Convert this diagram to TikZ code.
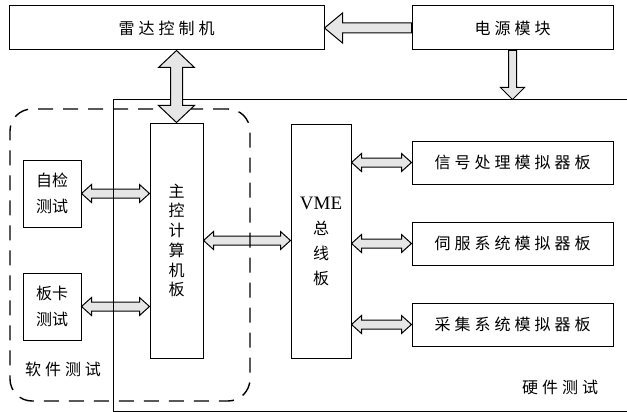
\documentclass[tikz,border=0pt]{standalone}
\usepackage{fontspec}
\setmainfont{Liberation Serif}
\newfontfamily\cjk[LetterSpace=25]{Noto Sans CJK SC}
\newfontfamily\cjkv{Noto Sans CJK SC}
\newfontfamily\latinserif{Liberation Serif}
\usetikzlibrary{calc}
\definecolor{arrowfill}{HTML}{E6E6E6}
\tikzset{
  box/.style={draw, line width=1pt, inner sep=0pt, font=\cjk\fontsize{16}{20}\selectfont},
  vbox/.style={draw, line width=1pt, inner sep=0pt, align=center},
  fatarrow/.style={draw, line width=1pt, fill=arrowfill, line join=miter},
  lbl/.style={inner sep=0pt, font=\cjk\fontsize{16}{20}\selectfont},
  swframe/.style={draw, dash pattern=on 15pt off 10pt, line width=1.4pt, rounded corners=22pt, inner sep=0pt},
  hwframe/.style={draw, line width=1pt, inner sep=0pt},
}
% horizontal double arrow: #1 left end, #2 right end, #3 shaft half, #4 head half, #5 head length
\newcommand\fatdh[5]{%
  \draw[fatarrow] let \p1=(#1), \p2=(#2) in
   (\x1,\y1) -- (\x1+#5,\y1+#4) -- (\x1+#5,\y1+#3) -- (\x2-#5,\y1+#3) -- (\x2-#5,\y1+#4)
   -- (\x2,\y1) -- (\x2-#5,\y1-#4) -- (\x2-#5,\y1-#3) -- (\x1+#5,\y1-#3) -- (\x1+#5,\y1-#4) -- cycle;}
% vertical double arrow: #1 top end, #2 bottom end
\newcommand\fatdv[5]{%
  \draw[fatarrow] let \p1=(#1), \p2=(#2) in
   (\x1,\y1) -- (\x1+#4,\y1-#5) -- (\x1+#3,\y1-#5) -- (\x1+#3,\y2+#5) -- (\x1+#4,\y2+#5)
   -- (\x1,\y2) -- (\x1-#4,\y2+#5) -- (\x1-#3,\y2+#5) -- (\x1-#3,\y1-#5) -- (\x1-#4,\y1-#5) -- cycle;}
% single arrow pointing left: #1 tail (right), #2 tip (left)
\newcommand\fatl[5]{%
  \draw[fatarrow] let \p1=(#1), \p2=(#2) in
   (\x2,\y1) -- (\x2+#5,\y1+#4) -- (\x2+#5,\y1+#3) -- (\x1,\y1+#3) -- (\x1,\y1-#3)
   -- (\x2+#5,\y1-#3) -- (\x2+#5,\y1-#4) -- cycle;}
% single arrow pointing down: #1 tail (top), #2 tip (bottom)
\newcommand\fatd[5]{%
  \draw[fatarrow] let \p1=(#1), \p2=(#2) in
   (\x1-#3,\y1) -- (\x1-#3,\y2+#5) -- (\x1-#4,\y2+#5) -- (\x1,\y2) -- (\x1+#4,\y2+#5)
   -- (\x1+#3,\y2+#5) -- (\x1+#3,\y1) -- cycle;}
\begin{document}
\begin{tikzpicture}[x=1pt,y=-1pt]
\useasboundingbox (0,0) rectangle (627,412);

% boxes
\node[box, minimum width=315pt, minimum height=44pt] (ld) at (166.5,28) {雷达控制机};
\node[box, minimum width=201pt, minimum height=44pt] (dy) at (512.5,28) {电源模块};
\node[vbox, minimum width=58pt, minimum height=67pt, font=\cjkv\fontsize{16}{26}\selectfont] (zj) at (52,193.5) {自检\\测试};
\node[vbox, minimum width=58pt, minimum height=67pt, font=\cjkv\fontsize{16}{26}\selectfont] (bk) at (52,306.5) {板卡\\测试};
\node[vbox, minimum width=53pt, minimum height=235pt, font=\cjkv\fontsize{16}{19.7}\selectfont] (zk) at (176.5,240.5) {主\\控\\计\\算\\机\\板};
\node[vbox, minimum width=60pt, minimum height=234pt, font=\cjkv\fontsize{16}{25}\selectfont] (vme) at (321,241) {{\latinserif\fontsize{19}{25}\selectfont VME}\\总\\线\\板};
\node[box, minimum width=201pt, minimum height=43pt] (xh) at (512.5,162.5) {信号处理模拟器板};
\node[box, minimum width=201pt, minimum height=43pt] (sf) at (512.5,243.5) {伺服系统模拟器板};
\node[box, minimum width=201pt, minimum height=43pt] (cj) at (512.5,324.5) {采集系统模拟器板};

% horizontal arrows (under the frames)
\fatdh{zj.east}{zk.west |- zj.east}{4.5pt}{9pt}{10pt}
\fatdh{bk.east}{zk.west |- bk.east}{4.5pt}{9pt}{10pt}
\fatdh{zk.east}{vme.west |- zk.east}{4.5pt}{9pt}{10pt}
\fatdh{vme.east |- xh.west}{xh.west}{4.5pt}{9pt}{10pt}
\fatdh{vme.east |- sf.west}{sf.west}{4.5pt}{9pt}{10pt}
\fatdh{vme.east |- cj.west}{cj.west}{4.5pt}{9pt}{10pt}

% frames
\node[hwframe, anchor=north west, minimum width=540pt, minimum height=311pt] (hw) at (113,99.5) {};
\node[swframe, minimum width=240pt, minimum height=292pt] (sw) at (130,255) {};

% labels
\node[lbl] (swl) at (63,369) {软件测试};
\node[lbl] (hwl) at (560,387) {硬件测试};

% top arrows
\fatl{dy.west}{ld.east}{5pt}{15pt}{18pt}
\fatd{dy.south}{dy.south |- hw.north}{4pt}{12pt}{12pt}
\fatdv{zk.north |- ld.south}{zk.north}{6pt}{18pt}{17pt}
\end{tikzpicture}
\end{document}
